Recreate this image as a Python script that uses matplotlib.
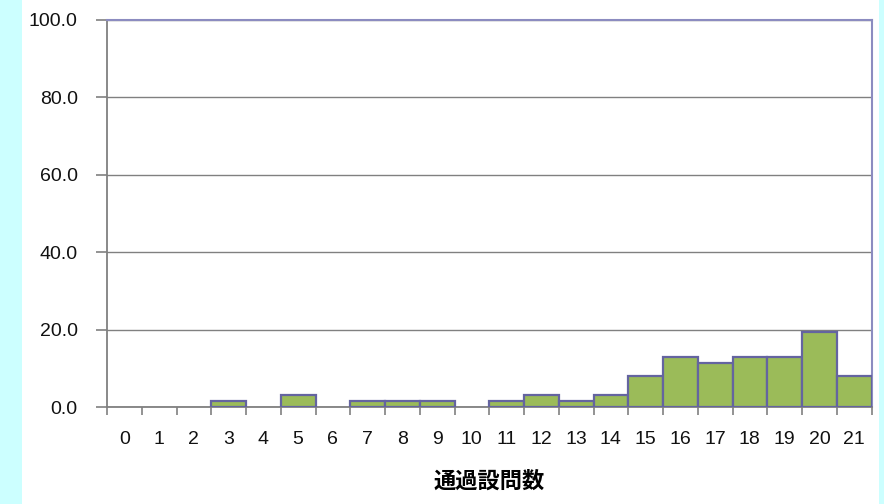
import matplotlib
matplotlib.use("Agg")
import matplotlib.pyplot as plt
from matplotlib.patches import Rectangle
from matplotlib.ticker import FixedLocator

categories = [str(i) for i in range(22)]
values = [0, 0, 0, 1.6, 0, 3.2, 0, 1.6, 1.6, 1.6, 0, 1.6, 3.2, 1.6, 3.2,
          8.1, 12.9, 11.3, 12.9, 12.9, 19.4, 8.1]
yticks = [0, 20, 40, 60, 80, 100]
xlabel = "通過設問数"

fig = plt.figure(figsize=(8.84, 5.04), dpi=100)
fig.patch.set_facecolor("white")
# cyan strips at the edges
fig.patches.append(Rectangle((0, 0), 22 / 884, 1, transform=fig.transFigure,
                             facecolor="#CCFFFF", edgecolor="none", zorder=0))
fig.patches.append(Rectangle((879 / 884, 0), 5 / 884, 1, transform=fig.transFigure,
                             facecolor="#CCFFFF", edgecolor="none", zorder=0))

ax = fig.add_axes([107 / 884, 1 - 407 / 504, (871.5 - 107) / 884, (407 - 20) / 504])
x = list(range(len(categories)))
edges = ["#6464A0" if v > 0 else "none" for v in values]
ax.bar(x, values, width=1.0, color="#9BBB59", edgecolor=edges, linewidth=1.6, zorder=3)

ax.set_xlim(-0.5, len(categories) - 0.5)
ax.set_ylim(0, 100)

ax.set_yticks(yticks)
ax.set_yticklabels([f"{v:.1f}" for v in yticks])
ax.yaxis.grid(True, color="#808080", linewidth=1.0, zorder=0)
ax.set_axisbelow(True)

ax.set_xticks(x)
ax.set_xticklabels(categories)
ax.xaxis.set_minor_locator(FixedLocator([i - 0.5 for i in range(len(categories) + 1)]))
ax.tick_params(axis="x", which="major", length=0, pad=17)
ax.tick_params(axis="x", which="minor", length=6, width=1.2, color="#808080", direction="out")
ax.tick_params(axis="y", which="major", length=8, width=1.2, color="#808080", pad=13)

for lab in ax.get_xticklabels() + ax.get_yticklabels():
    lab.set_fontfamily("Liberation Sans")
    lab.set_fontsize(14)
    lab.set_color("#111111")

ax.spines["left"].set_color("#808080")
ax.spines["bottom"].set_color("#808080")
ax.spines["left"].set_linewidth(1.3)
ax.spines["bottom"].set_linewidth(1.3)
ax.spines["top"].set_color("#8C8CC0")
ax.spines["right"].set_color("#8C8CC0")
ax.spines["top"].set_linewidth(1.5)
ax.spines["right"].set_linewidth(1.5)

fig.text((107 + 871.5) / 2 / 884, 1 - 481 / 504, xlabel, ha="center", va="center",
         fontsize=16, fontweight="bold", family=["Noto Sans CJK JP", "DejaVu Sans"])

fig.savefig("out.png", dpi=100)
